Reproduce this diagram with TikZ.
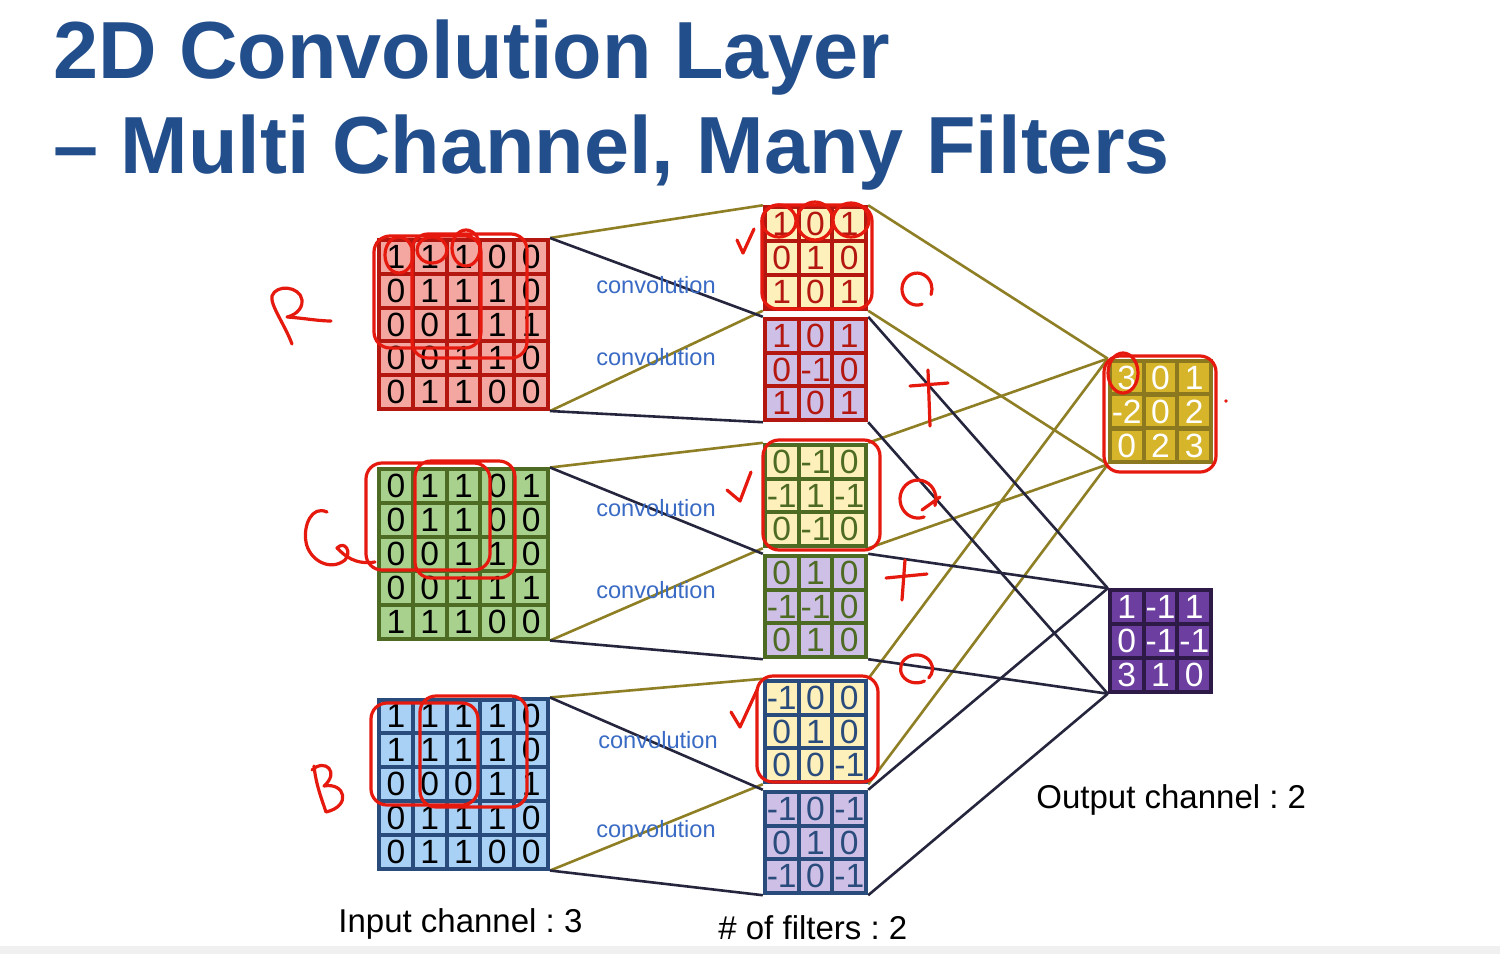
\documentclass[tikz,border=0pt]{standalone}
\usepackage{fontspec}
\setmainfont{Liberation Sans}
\usepackage{xcolor}
\usetikzlibrary{matrix,backgrounds}
\frenchspacing
\definecolor{titleblue}{HTML}{234E8C}
\definecolor{convblue}{HTML}{3A6BC4}
\definecolor{redline}{HTML}{B3170F}
\definecolor{redfill}{HTML}{F4A7A1}
\definecolor{greenline}{HTML}{4E6B23}
\definecolor{greenfill}{HTML}{A9D18E}
\definecolor{blueline}{HTML}{2A4C7D}
\definecolor{bluefill}{HTML}{A9D1F5}
\definecolor{creamfill}{HTML}{FDF0BA}
\definecolor{lilacfill}{HTML}{CDBFE6}
\definecolor{goldline}{HTML}{8C781E}
\definecolor{goldfill}{HTML}{D6B52B}
\definecolor{plumline}{HTML}{2D1A46}
\definecolor{plumfill}{HTML}{6C3E9F}
\definecolor{olivewirec}{HTML}{8E7E24}
\definecolor{navywirec}{HTML}{25253D}
\definecolor{penred}{HTML}{E6190F}
\tikzset{
  cellbox/.style={minimum size=16.9pt, inner sep=0pt, outer sep=0pt, line width=2pt, font=\fontsize{16.8}{16.8}\selectfont},
  gridmat/.style n args={3}{matrix of nodes, inner sep=0pt, outer sep=0pt, column sep=-2pt, row sep=-2pt, nodes={cellbox, draw=#1, fill=#2, text=#3}},
  olivewire/.style={line width=1.3pt, olivewirec},
  navywire/.style={line width=1.3pt, navywirec},
  convlabel/.style={font=\fontsize{11.8}{12}\selectfont, text=convblue, inner sep=0pt, anchor=base},
  bottomlabel/.style={font=\fontsize{16.5}{18}\selectfont, inner sep=0pt, anchor=base west},
  headline/.style={font=\fontsize{40.5}{46}\selectfont\bfseries, text=titleblue, inner sep=0pt, anchor=base west},
  inkpen/.style={penred, line width=1.6pt, line cap=round, line join=round},
}
\begin{document}
\begin{tikzpicture}[x=0.5pt, y=-0.5pt]
  \useasboundingbox (0,0) rectangle (1500,954);
  \node[headline] (title1) at (53,78) {2D Convolution Layer};
  \node[headline] (title2) at (53,173) {-- Multi Channel, Many Filters};
  % input channels
  \matrix[gridmat={redline}{redfill}{black}] (inR) at (463.5,324.5) {
    1 & 1 & 1 & 0 & 0 \\
    0 & 1 & 1 & 1 & 0 \\
    0 & 0 & 1 & 1 & 1 \\
    0 & 0 & 1 & 1 & 0 \\
    0 & 1 & 1 & 0 & 0 \\
  };
  \matrix[gridmat={greenline}{greenfill}{black}] (inG) at (463.5,554) {
    0 & 1 & 1 & 0 & 1 \\
    0 & 1 & 1 & 0 & 0 \\
    0 & 0 & 1 & 1 & 0 \\
    0 & 0 & 1 & 1 & 1 \\
    1 & 1 & 1 & 0 & 0 \\
  };
  \matrix[gridmat={blueline}{bluefill}{black}] (inB) at (463.5,784) {
    1 & 1 & 1 & 1 & 0 \\
    1 & 1 & 1 & 1 & 0 \\
    0 & 0 & 0 & 1 & 1 \\
    0 & 1 & 1 & 1 & 0 \\
    0 & 1 & 1 & 0 & 0 \\
  };
  % filters
  \matrix[gridmat={redline}{creamfill}{redline}] (fR1) at (815.5,258) {
    1 & 0 & 1 \\ 0 & 1 & 0 \\ 1 & 0 & 1 \\
  };
  \matrix[gridmat={redline}{lilacfill}{redline}] (fR2) at (815.5,369.5) {
    1 & 0 & 1 \\ 0 & -1 & 0 \\ 1 & 0 & 1 \\
  };
  \matrix[gridmat={greenline}{creamfill}{greenline}] (fG1) at (815.5,495.5) {
    0 & -1 & 0 \\ -1 & 1 & -1 \\ 0 & -1 & 0 \\
  };
  \matrix[gridmat={greenline}{lilacfill}{greenline}] (fG2) at (815.5,606.5) {
    0 & 1 & 0 \\ -1 & -1 & 0 \\ 0 & 1 & 0 \\
  };
  \matrix[gridmat={blueline}{creamfill}{blueline}] (fB1) at (815.5,731.5) {
    -1 & 0 & 0 \\ 0 & 1 & 0 \\ 0 & 0 & -1 \\
  };
  \matrix[gridmat={blueline}{lilacfill}{blueline}] (fB2) at (815.5,842.5) {
    -1 & 0 & -1 \\ 0 & 1 & 0 \\ -1 & 0 & -1 \\
  };
  % output channels
  \matrix[gridmat={goldline}{goldfill}{white}] (out1) at (1160.5,411.5) {
    3 & 0 & 1 \\ -2 & 0 & 2 \\ 0 & 2 & 3 \\
  };
  \matrix[gridmat={plumline}{plumfill}{white}] (out2) at (1160.5,641) {
    1 & -1 & 1 \\ 0 & -1 & -1 \\ 3 & 1 & 0 \\
  };
  \node[convlabel] (convR1) at (656,293) {convolution};
  \node[convlabel] (convR2) at (656,365) {convolution};
  \node[convlabel] (convG1) at (656,516) {convolution};
  \node[convlabel] (convG2) at (656,598) {convolution};
  \node[convlabel] (convB1) at (658,748) {convolution};
  \node[convlabel] (convB2) at (656,837) {convolution};
  \node[bottomlabel] (inlabel) at (338,932) {Input channel : 3};
  \node[bottomlabel] (filterlabel) at (718,939) {\# of filters : 2};
  \node[bottomlabel] (outlabel) at (1036,808) {Output channel : 2};
  \begin{scope}[on background layer]
    \fill[white] (0,0) rectangle (1500,954);
    \fill[black!6] (0,946) rectangle (1500,954);
    \draw[olivewire] (inR.north east) -- (fR1.north west) (inR.south east) -- (fR1.south west);
    \draw[navywire] (inR.north east) -- (fR2.north west) (inR.south east) -- (fR2.south west);
    \draw[olivewire] (inG.north east) -- (fG1.north west) (inG.south east) -- (fG1.south west);
    \draw[navywire] (inG.north east) -- (fG2.north west) (inG.south east) -- (fG2.south west);
    \draw[olivewire] (inB.north east) -- (fB1.north west) (inB.south east) -- (fB1.south west);
    \draw[navywire] (inB.north east) -- (fB2.north west) (inB.south east) -- (fB2.south west);
    \draw[olivewire] (fR1.north east) -- (out1.north west) (fR1.south east) -- (out1.south west);
    \draw[olivewire] (fG1.north east) -- (out1.north west) (fG1.south east) -- (out1.south west);
    \draw[olivewire] (fB1.north east) -- (out1.north west) (fB1.south east) -- (out1.south west);
    \draw[navywire] (fR2.north east) -- (out2.north west) (fR2.south east) -- (out2.south west);
    \draw[navywire] (fG2.north east) -- (out2.north west) (fG2.south east) -- (out2.south west);
    \draw[navywire] (fB2.north east) -- (out2.north west) (fB2.south east) -- (out2.south west);
  \end{scope}
  % hand-written marks
  \draw[inkpen] (292,344) .. controls (285,325) and (270,305) .. (272,296) .. controls (276,284) and (300,286) .. (302,300) .. controls (303,311) and (292,316) .. (287,317) .. controls (303,318) and (318,321) .. (331,321);
  \draw[inkpen] (327,512) .. controls (312,505) and (303,525) .. (306,542) .. controls (309,560) and (330,572) .. (345,560) .. controls (352,552) and (345,540) .. (337,548) .. controls (345,556) and (355,565) .. (375,562);
  \draw[inkpen] (314,766) .. controls (316,785) and (322,800) .. (326,812) (312,770) .. controls (325,758) and (340,772) .. (324,786) .. controls (345,782) and (352,806) .. (326,812);
  \draw[inkpen, rounded corners=8pt] (374,236) rectangle (481,348) (412,234) rectangle (527,358);
  \draw[inkpen] (399,255) ellipse [x radius=14, y radius=18] (432,250) ellipse [x radius=15, y radius=13] (466,248) ellipse [x radius=14, y radius=18];
  \draw[inkpen, rounded corners=8pt] (366,463) rectangle (490,570) (415,461) rectangle (515,578);
  \draw[inkpen, rounded corners=8pt] (371,703) rectangle (478,805) (420,696) rectangle (527,807);
  \draw[inkpen, rounded corners=8pt] (762,205) rectangle (872,309);
  \draw[inkpen] (779,221) ellipse [x radius=17, y radius=16] (815,221) ellipse [x radius=18, y radius=19] (851,220) ellipse [x radius=18, y radius=17];
  \draw[inkpen, rounded corners=8pt] (763,440) rectangle (880,550);
  \draw[inkpen, rounded corners=8pt] (757,676) rectangle (878,782);
  \draw[inkpen, rounded corners=8pt] (1104,356) rectangle (1216,472);
  \draw[inkpen] (1123,373) ellipse [x radius=15, y radius=20];
  \draw[inkpen] (737,240) -- (743,253) -- (754,229);
  \draw[inkpen] (727,490) -- (740,501) -- (751,472);
  \draw[inkpen] (731,712) -- (740,727) -- (757,690);
  \draw[inkpen] (917,290) ++(70:15) arc[start angle=70, end angle=380, x radius=15, y radius=16];
  \draw[inkpen] (918,500) ++(70:18) arc[start angle=70, end angle=380, x radius=18, y radius=19] (922,510) -- (940,497);
  \draw[inkpen] (917,668) ++(60:15) arc[start angle=60, end angle=400, x radius=16, y radius=14];
  \draw[inkpen] (910,386) -- (948,383) (928,370) -- (930,426);
  \draw[inkpen] (886,578) -- (927,574) (905,560) -- (902,600);
  \fill[penred] (1226,401) circle[radius=1.8];
\end{tikzpicture}
\end{document}
